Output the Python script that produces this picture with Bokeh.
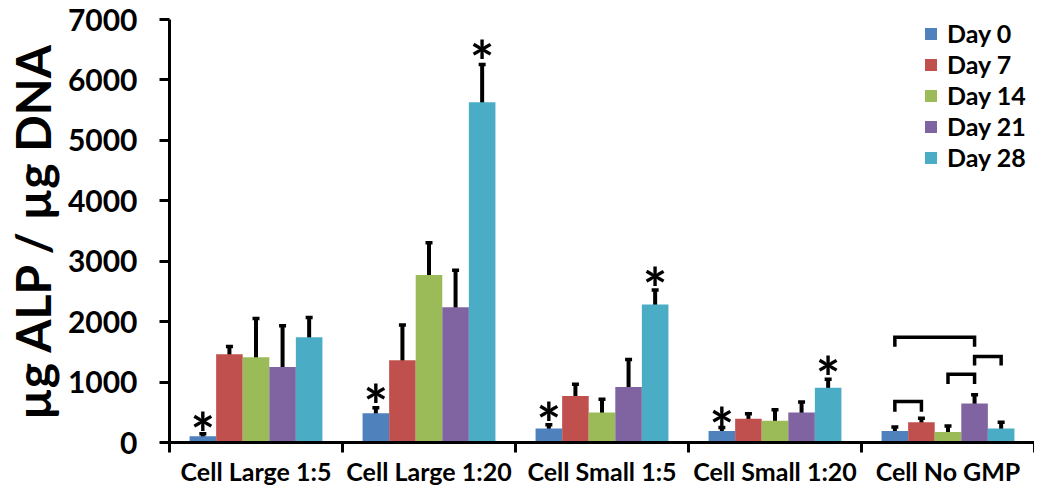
from bokeh.plotting import figure
from bokeh.models import (ColumnDataSource, Range1d, LinearAxis, FixedTicker,
                          Whisker, TeeHead)
from bokeh.core.properties import value
from bokeh.embed import file_html
from bokeh.resources import INLINE

# ---------------- data ----------------
categories = ["Cell Large 1:5", "Cell Large 1:20", "Cell Small 1:5",
              "Cell Small 1:20", "Cell No GMP"]
days = ["Day 0", "Day 7", "Day 14", "Day 21", "Day 28"]
colors = ["#4F81BD", "#C0504D", "#9BBB59", "#8064A2", "#4BACC6"]

day0 = [105, 485, 230, 190, 190]
day7 = [1460, 1360, 770, 395, 335]
day14 = [1410, 2770, 495, 360, 175]
day21 = [1250, 2240, 920, 495, 645]
day28 = [1740, 5630, 2285, 905, 230]

err0 = [40, 90, 65, 60, 65]
err7 = [130, 585, 195, 80, 65]
err14 = [640, 535, 220, 180, 100]
err21 = [680, 610, 455, 175, 145]
err28 = [330, 625, 240, 140, 105]

series = [day0, day7, day14, day21, day28]
errors = [err0, err7, err14, err21, err28]

# significance stars (category, day, y of star centre)
star_cat = ["Cell Large 1:5", "Cell Large 1:20", "Cell Large 1:20",
            "Cell Small 1:5", "Cell Small 1:5", "Cell Small 1:20",
            "Cell Small 1:20"]
star_day = ["Day 0", "Day 0", "Day 28", "Day 0", "Day 28", "Day 0", "Day 28"]
star_y = [361, 826, 6519, 529, 2763, 454, 1290]

# brackets in "Cell No GMP" group
bracket_cat = "Cell No GMP"
bracket_from = ["Day 0", "Day 21", "Day 14", "Day 0"]
bracket_to = ["Day 21", "Day 28", "Day 21", "Day 7"]
bracket_top = [1740, 1425, 1130, 680]
bracket_bottom = [1585, 1275, 970, 510]

y_ticks = [0, 1000, 2000, 3000, 4000, 5000, 6000, 7000]

# ---------------- figure ----------------
BAR_W = 0.1536
FONT = "Lato"


def xpos(cat, day):
    return categories.index(cat) + 0.5 + (days.index(day) - 2) * BAR_W


p = figure(width=1034, height=488, x_range=Range1d(0, 5), y_range=Range1d(0, 7000),
           output_backend="svg", toolbar_location=None, x_axis_type=None,
           min_border_left=165, min_border_right=0, min_border_top=19,
           min_border_bottom=0)
p.xgrid.visible = False
p.ygrid.visible = False
p.outline_line_color = None
p.background_fill_color = "white"

for j, (d, vals, errs, c) in enumerate(zip(days, series, errors, colors)):
    xs = [xpos(cat, d) for cat in categories]
    src = ColumnDataSource(dict(
        x=xs, top=vals,
        upper=[v + e for v, e in zip(vals, errs)],
        lower=[v - e for v, e in zip(vals, errs)],
    ))
    p.vbar(x="x", top="top", width=BAR_W, source=src, fill_color=c,
           line_color=None, legend_label=d)
    wh = Whisker(source=src, base="x", upper="upper", lower="lower",
                 line_color="black", line_width=4,
                 upper_head=TeeHead(size=7, line_width=3.5, line_color="black"),
                 lower_head=TeeHead(size=7, line_width=3.5, line_color="black"))
    p.add_layout(wh)

# brackets
bx, by = [], []
for f, t, top, bot in zip(bracket_from, bracket_to, bracket_top, bracket_bottom):
    x1, x2 = xpos(bracket_cat, f), xpos(bracket_cat, t)
    bx.append([x1, x1, x2, x2])
    by.append([bot, top, top, bot])
p.multi_line(xs=bx, ys=by, line_color="black", line_width=3.5,
             line_join="miter")

# stars
p.text(x=[xpos(c, d) for c, d in zip(star_cat, star_day)], y=star_y,
       text=["*"] * len(star_y), text_font=value(FONT), text_font_style="bold",
       text_font_size="58px", text_align="center", text_baseline="middle",
       y_offset=12, text_color="black")

# x axis: labels at category centres, minor ticks at boundaries
xaxis = LinearAxis(
    ticker=FixedTicker(ticks=[i + 0.5 for i in range(len(categories))],
                       minor_ticks=list(range(len(categories) + 1))),
    major_label_overrides={i + 0.5: c for i, c in enumerate(categories)},
)
xaxis.axis_line_width = 3
xaxis.axis_line_color = "black"
xaxis.major_tick_line_color = None
xaxis.major_tick_out = 0
xaxis.major_tick_in = 0
xaxis.minor_tick_line_color = "black"
xaxis.minor_tick_line_width = 3
xaxis.minor_tick_out = 10
xaxis.minor_tick_in = 0
xaxis.major_label_standoff = 3
xaxis.major_label_text_font = FONT
xaxis.major_label_text_font_style = "bold"
xaxis.major_label_text_font_size = "25px"
xaxis.major_label_text_color = "black"
p.add_layout(xaxis, "below")

# y axis
ya = p.yaxis[0]
ya.ticker = FixedTicker(ticks=y_ticks)
ya.axis_line_width = 3
ya.axis_line_color = "black"
ya.major_tick_line_width = 3
ya.major_tick_line_color = "black"
ya.major_tick_out = 10
ya.major_tick_in = 0
ya.minor_tick_line_color = None
ya.major_label_standoff = 22
ya.major_label_text_font = FONT
ya.major_label_text_font_style = "bold"
ya.major_label_text_font_size = "30px"
ya.major_label_text_color = "black"
ya.axis_label = "µg ALP / µg DNA"
ya.axis_label_text_font = FONT
ya.axis_label_text_font_style = "bold"
ya.axis_label_text_font_size = "48px"
ya.axis_label_text_color = "black"
ya.axis_label_standoff = 4

# legend
lg = p.legend[0]
lg.location = (754, 270)
lg.border_line_color = None
lg.background_fill_alpha = 0
lg.padding = 0
lg.margin = 0
lg.spacing = 1
lg.glyph_width = 15
lg.glyph_height = 15
lg.label_height = 30
lg.label_standoff = 9
lg.label_text_font = FONT
lg.label_text_font_style = "bold"
lg.label_text_font_size = "25px"
lg.label_text_color = "black"

open("out.html", "w").write(file_html(p, INLINE))
